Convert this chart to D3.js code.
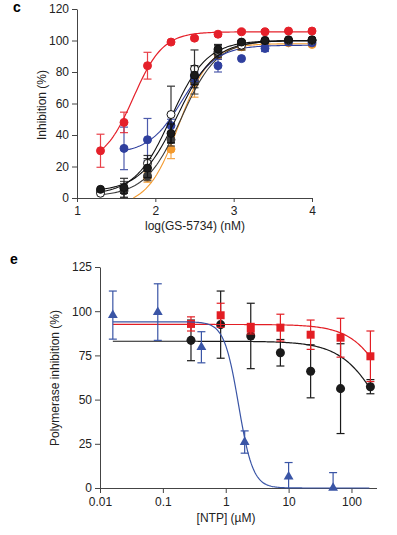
<!DOCTYPE html>
<html>
<head>
<meta charset="utf-8">
<script src="https://cdn.jsdelivr.net/npm/d3@7"></script>
<style>
body { margin: 0; background: #fff; }
svg text { font-family: "Liberation Sans", Arial, sans-serif; }
.tick text { font-size: 12px; fill: #222; }
.domain, .tick line { stroke: #444; }
</style>
</head>
<body>
<div id="chart"></div>
<script>
// ---- panel c data ----
var logDose = [1.3, 1.6, 1.9, 2.2, 2.5, 2.8, 3.1, 3.4, 3.7, 4.0];
var redVals = [30, 48, 84, 99, 101.5, 104, 105.5, 105.5, 106, 106];
var redErr = [10.5, 6.5, 8.5, 1, 1, 1, 1, 1, 0.5, 0.5];
var blueVals = [null, 31.5, 37, 46, 77, 84, 88.5, 95, 99, 98.5];
var blueErr = [0, 13.5, 13.5, 4, 3, 4, 0, 2, 0, 0];
var openVals = [3, 6, 22, 53, 82, 93, 97, 100, 100, 100];
var openErr = [0, 3, 5, 18, 12, 4, 3, 0, 0, 0];
var blackVals = [5.5, 6.5, 19, 41, 78, 94.5, 99, 100, 100.5, 100.5];
var blackErr = [0, 6, 6, 6, 6, 3, 1, 1, 0, 0];
var grayVals = [4, 4.5, 14, 37, 74, 92, 98, 99.5, 100, 100];
var grayErr = [0, 6, 3, 4, 8, 2, 1, 0, 0, 0];
var orangeVals = [null, null, 13, 31, 73, 91, 96, 98, 98.5, 97.5];
var orangeErr = [0, 0, 3, 6, 9, 3, 2, 1, 1, 1];
// fit parameters: bottom, top, logEC50, hill, first log dose
var redFit = [22, 105.5, 1.72, 2.3, 1.3];
var blueFit = [28, 97, 2.35, 2.0, 1.6];
var openFit = [2, 100, 2.2, 1.9, 1.3];
var blackFit = [4, 100, 2.28, 1.85, 1.3];
var grayFit = [1, 100, 2.33, 1.9, 1.3];
var orangeFit = [-5, 98, 2.3, 2.2, 1.7];
var cYTicks = [0, 20, 40, 60, 80, 100, 120];
var cXTicks = [1, 2, 3, 4];

// ---- panel e data ----
var blueNtp = [0.016, 0.083, 0.41, 2.0, 10, 51];
var blueInh = [97.8, 99.5, 79.6, 26, 6.4, 0];
var blueInhErr = [13.6, 16, 8.8, 6.3, 8, 8.7];
var redNtp = [0.28, 0.83, 2.5, 7.4, 22.4, 67, 200];
var redInh = [92.8, 97.7, 90.1, 90.7, 86.7, 85, 74.5];
var redInhErr = [4, 6.8, 3, 7.6, 8.3, 11, 14.3];
var blackNtp = [0.28, 0.83, 2.5, 7.4, 22.4, 67, 200];
var blackInh = [83.5, 92.4, 86, 76.5, 66, 56.2, 57.3];
var blackInhErr = [11.5, 19, 18.5, 7.5, 15, 25.4, 4];
// fit parameters: top, IC50 (uM), hill
var blueInhFit = [94, 1.6, 3.8];
var redInhFit = [92.5, 537, 1.4];
var blackInhFit = [83, 351, 1.3];
var eYTicks = [0, 25, 50, 75, 100, 125];
var eXTicks = [0.01, 0.1, 1, 10, 100];

var svg = d3.select("#chart").append("svg")
  .attr("width", 397)
  .attr("height", 535);

// ================= panel c =================
var xC = d3.scaleLinear().domain([1, 4]).range([77, 312]);
var yC = d3.scaleLinear().domain([0, 120]).range([198, 9]);

var gc = svg.append("g");

gc.append("g")
  .attr("transform", "translate(0,198)")
  .call(d3.axisBottom(xC).tickValues(cXTicks).tickFormat(d3.format("d")).tickSize(4).tickSizeOuter(0).tickPadding(4));
gc.append("g")
  .attr("transform", "translate(77,0)")
  .call(d3.axisLeft(yC).tickValues(cYTicks).tickSize(5).tickSizeOuter(0).tickPadding(3));

gc.append("text")
  .attr("x", 195).attr("y", 230)
  .attr("text-anchor", "middle")
  .style("font-size", "12px").style("fill", "#222")
  .text("log(GS-5734) (nM)");
gc.append("text")
  .attr("transform", "translate(46,105) rotate(-90)")
  .attr("text-anchor", "middle")
  .style("font-size", "12px").style("fill", "#222")
  .text("Inhibition (%)");
gc.append("text")
  .attr("x", 13).attr("y", 12)
  .style("font-size", "14px").style("font-weight", "bold")
  .text("c");

function hill4(p, x) {
  return p[0] + (p[1] - p[0]) / (1 + Math.pow(10, (p[2] - x) * p[3]));
}

function drawDoseSeries(vals, errs, fit, color, fill, lw) {
  var pts = d3.range(fit[4], 4.0001, 0.02).map(function(x) {
    return [x, hill4(fit, x)];
  }).filter(function(d) { return d[1] >= 0; });

  gc.append("path")
    .datum(pts)
    .attr("fill", "none")
    .attr("stroke", color)
    .attr("stroke-width", lw)
    .attr("d", d3.line().x(d => xC(d[0])).y(d => yC(d[1])));

  var data = logDose.map(function(x, i) {
    return { x: x, v: vals[i], e: errs[i] };
  }).filter(d => d.v !== null);

  var eb = gc.append("g")
    .attr("stroke", color)
    .attr("stroke-width", 1.2)
    .attr("opacity", 0.85);
  data.filter(d => d.e > 0).forEach(function(d) {
    var lo = Math.max(0, d.v - d.e), hi = d.v + d.e;
    eb.append("line").attr("x1", xC(d.x)).attr("x2", xC(d.x)).attr("y1", yC(lo)).attr("y2", yC(hi));
    eb.append("line").attr("x1", xC(d.x) - 4).attr("x2", xC(d.x) + 4).attr("y1", yC(hi)).attr("y2", yC(hi));
    eb.append("line").attr("x1", xC(d.x) - 4).attr("x2", xC(d.x) + 4).attr("y1", yC(lo)).attr("y2", yC(lo));
  });

  gc.append("g").selectAll("circle")
    .data(data)
    .enter()
    .append("circle")
    .attr("cx", d => xC(d.x))
    .attr("cy", d => yC(d.v))
    .attr("r", 4)
    .attr("fill", fill)
    .attr("stroke", color)
    .attr("stroke-width", 1);
}

drawDoseSeries(orangeVals, orangeErr, orangeFit, "#f39a2e", "#f39a2e", 1.1);
drawDoseSeries(grayVals, grayErr, grayFit, "#3a3a3a", "#3a3a3a", 1.1);
drawDoseSeries(blueVals, blueErr, blueFit, "#2f3f9e", "#2f3f9e", 1.1);
drawDoseSeries(openVals, openErr, openFit, "#111", "#fff", 1.1);
drawDoseSeries(blackVals, blackErr, blackFit, "#111", "#1a1a1a", 1.1);
drawDoseSeries(redVals, redErr, redFit, "#e5202a", "#e5202a", 1.2);

// ================= panel e =================
var xE = d3.scaleLog().domain([0.01, 250]).range([100, 376.5]);
var yE = d3.scaleLinear().domain([0, 125]).range([488, 267]);

var ge = svg.append("g");

ge.append("g")
  .attr("transform", "translate(0,488)")
  .call(d3.axisBottom(xE).tickValues(eXTicks).tickFormat(d3.format("~g")).tickSize(5).tickSizeOuter(0).tickPadding(4));
ge.append("g")
  .attr("transform", "translate(100,0)")
  .call(d3.axisLeft(yE).tickValues(eYTicks).tickSize(5).tickSizeOuter(0).tickPadding(3));

ge.append("text")
  .attr("x", 226).attr("y", 522)
  .attr("text-anchor", "middle")
  .style("font-size", "12px").style("fill", "#222")
  .text("[NTP] (\u00b5M)");
ge.append("text")
  .attr("transform", "translate(59,378) rotate(-90)")
  .attr("text-anchor", "middle")
  .style("font-size", "12px").style("fill", "#222")
  .text("Polymerase inhibition (%)");
ge.append("text")
  .attr("x", 10).attr("y", 264)
  .style("font-size", "14px").style("font-weight", "bold")
  .text("e");

function drawNtpSeries(xs, vals, errs, fit, color, shape) {
  var pts = d3.range(Math.log10(0.016), Math.log10(200) + 0.0001, 0.02).map(function(lx) {
    var x = Math.pow(10, lx);
    return [x, fit[0] / (1 + Math.pow(x / fit[1], fit[2]))];
  });

  ge.append("path")
    .datum(pts)
    .attr("fill", "none")
    .attr("stroke", color)
    .attr("stroke-width", 1.2)
    .attr("d", d3.line().x(d => xE(d[0])).y(d => yE(d[1])));

  var data = xs.map(function(x, i) {
    return { x: x, v: vals[i], e: errs[i] };
  });

  var eb = ge.append("g")
    .attr("stroke", color)
    .attr("stroke-width", 1.2);
  data.forEach(function(d) {
    var lo = Math.max(0, d.v - d.e), hi = d.v + d.e;
    eb.append("line").attr("x1", xE(d.x)).attr("x2", xE(d.x)).attr("y1", yE(lo)).attr("y2", yE(hi));
    eb.append("line").attr("x1", xE(d.x) - 4).attr("x2", xE(d.x) + 4).attr("y1", yE(hi)).attr("y2", yE(hi));
    if (lo > 0) {
      eb.append("line").attr("x1", xE(d.x) - 4).attr("x2", xE(d.x) + 4).attr("y1", yE(lo)).attr("y2", yE(lo));
    }
  });

  ge.append("g").selectAll("path")
    .data(data)
    .enter()
    .append("path")
    .attr("transform", d => "translate(" + xE(d.x) + "," + yE(d.v) + ")")
    .attr("d", d3.symbol().type(shape).size(shape === d3.symbolTriangle ? 42 : 64))
    .attr("fill", color);
}

drawNtpSeries(blackNtp, blackInh, blackInhErr, blackInhFit, "#1a1a1a", d3.symbolCircle);
drawNtpSeries(redNtp, redInh, redInhErr, redInhFit, "#e31e24", d3.symbolSquare);
drawNtpSeries(blueNtp, blueInh, blueInhErr, blueInhFit, "#3a55a6", d3.symbolTriangle);
</script>
</body>
</html>
